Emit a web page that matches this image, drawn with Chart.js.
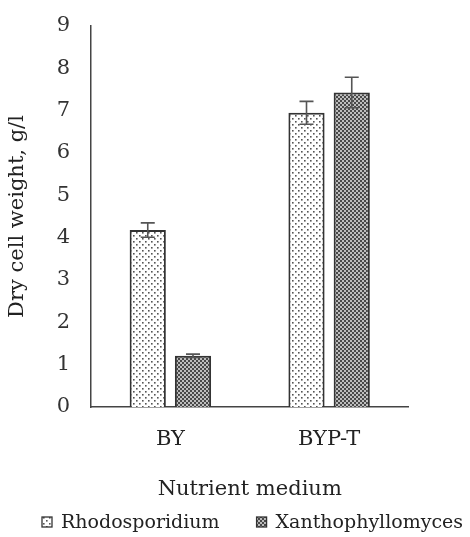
<!DOCTYPE html>
<html>
<head>
<meta charset="utf-8">
<script src="https://cdn.jsdelivr.net/npm/chart.js@4/dist/chart.umd.min.js"></script>
<style>
html,body{margin:0;padding:0;background:#fff;}
#wrap{width:470px;height:537px;}
</style>
</head>
<body>
<div id="wrap"><canvas id="c" width="470" height="537"></canvas></div>
<script>
const categories = ["BY", "BYP-T"];
const seriesNames = ["Rhodosporidium", "Xanthophyllomyces"];
const rhodoValues = [4.18, 6.95];
const rhodoErrors = [0.17, 0.27];
const xanthoValues = [1.21, 7.43];
const xanthoErrors = [0.04, 0.36];
const yTicks = [0, 1, 2, 3, 4, 5, 6, 7, 8, 9];

const serif = "'DejaVu Serif', 'Liberation Serif', serif";
const AXIS_FONT = 21;
const LEGEND_FONT = 19;

function dotPattern() {
  const t = document.createElement('canvas');
  t.width = 6; t.height = 6;
  const g = t.getContext('2d');
  g.fillStyle = '#fff'; g.fillRect(0, 0, 6, 6);
  g.fillStyle = '#555';
  g.fillRect(1, 1, 1.6, 1.6);
  g.fillRect(4, 4, 1.6, 1.6);
  return g.createPattern(t, 'repeat');
}
function checkPattern() {
  const t = document.createElement('canvas');
  t.width = 4; t.height = 4;
  const g = t.getContext('2d');
  g.fillStyle = '#bdbdbd'; g.fillRect(0, 0, 4, 4);
  g.fillStyle = '#484848';
  g.fillRect(0, 0, 2, 2);
  g.fillRect(2, 2, 2, 2);
  return g.createPattern(t, 'repeat');
}

const errorBars = {
  id: 'errorBars',
  afterDatasetsDraw(chart) {
    const ctx = chart.ctx;
    const ys = chart.scales.y;
    chart.data.datasets.forEach((ds, i) => {
      const meta = chart.getDatasetMeta(i);
      meta.data.forEach((bar, j) => {
        const v = ds.data[j], e = ds.errors[j];
        const top = ys.getPixelForValue(v + e);
        const bot = ys.getPixelForValue(v - e);
        ctx.save();
        ctx.strokeStyle = '#555';
        ctx.lineWidth = 1.6;
        ctx.beginPath();
        ctx.moveTo(bar.x, top); ctx.lineTo(bar.x, bot);
        ctx.moveTo(bar.x - 7, top); ctx.lineTo(bar.x + 7, top);
        ctx.moveTo(bar.x - 7, bot); ctx.lineTo(bar.x + 7, bot);
        ctx.stroke();
        ctx.restore();
      });
    });
  }
};

// legend drawn from the datasets' own labels and fills
const patternLegend = {
  id: 'patternLegend',
  afterDraw(chart) {
    const ctx = chart.ctx;
    ctx.save();
    ctx.font = LEGEND_FONT + 'px ' + serif;
    ctx.textBaseline = 'middle';
    ctx.textAlign = 'left';
    const cy = 522;
    let x = 42;
    chart.data.datasets.forEach((ds, i) => {
      ctx.fillStyle = ds.backgroundColor;
      ctx.fillRect(x, cy - 5, 10, 10);
      ctx.strokeStyle = '#333';
      ctx.lineWidth = 1.3;
      ctx.strokeRect(x, cy - 5, 10, 10);
      x += 19;
      ctx.fillStyle = '#222';
      ctx.fillText(ds.label, x, cy + 1);
      x += ctx.measureText(ds.label).width + 37;
    });
    ctx.restore();
  }
};

new Chart(document.getElementById('c'), {
  type: 'bar',
  data: {
    labels: categories,
    datasets: [
      { label: seriesNames[0], data: rhodoValues, errors: rhodoErrors,
        backgroundColor: dotPattern(), borderColor: '#333', borderWidth: 2 },
      { label: seriesNames[1], data: xanthoValues, errors: xanthoErrors,
        backgroundColor: checkPattern(), borderColor: '#333', borderWidth: 2 }
    ]
  },
  options: {
    responsive: false,
    animation: false,
    devicePixelRatio: 1,
    categoryPercentage: 0.57,
    barPercentage: 0.8,
    layout: { padding: { top: 26, right: 61.5, left: 0, bottom: 30 } },
    plugins: {
      tooltip: { enabled: false },
      legend: { display: false }
    },
    scales: {
      x: {
        grid: { display: false, drawTicks: false },
        border: { display: true, color: '#444', width: 1.5 },
        ticks: { color: '#222', font: { family: serif, size: AXIS_FONT }, padding: 20 },
        title: { display: true, text: 'Nutrient medium', color: '#222',
                 font: { family: serif, size: AXIS_FONT }, padding: { top: 26, bottom: 4.4 } },
        afterFit(scale) { scale.height = 100; }
      },
      y: {
        min: 0, max: 9,
        afterBuildTicks(scale) { scale.ticks = yTicks.map(v => ({ value: v })); },
        grid: { display: false, drawTicks: false },
        border: { display: true, color: '#444', width: 1.5 },
        ticks: { color: '#333', font: { family: serif, size: AXIS_FONT }, padding: 21 },
        title: { display: true, text: 'Dry cell weight, g/l', color: '#222',
                 font: { family: serif, size: AXIS_FONT }, padding: { top: 5.4, bottom: 4 } },
        afterFit(scale) {
          scale.width = 91;
          scale.paddingTop = 10;
          scale.paddingBottom = 10;
        }
      }
    }
  },
  plugins: [errorBars, patternLegend]
});
</script>
</body>
</html>
